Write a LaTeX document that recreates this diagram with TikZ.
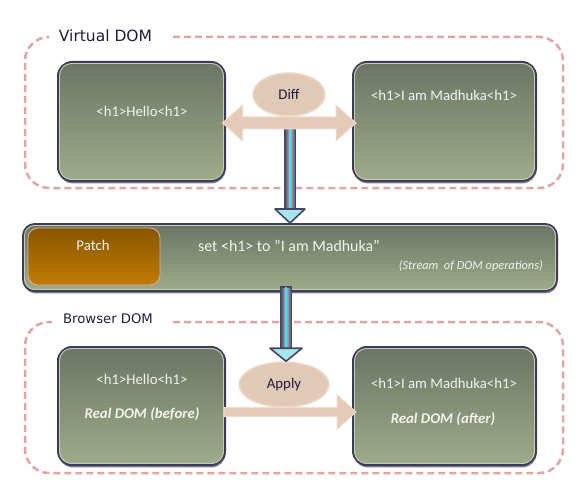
\documentclass[tikz,border=0pt]{standalone}
\usepackage{fontspec}
\setmainfont{Carlito}
\newfontfamily\lblfont{DejaVu Sans}
\usetikzlibrary{calc,shadows,shapes.geometric}
\definecolor{boxtop}{HTML}{6A7563}
\definecolor{boxbot}{HTML}{9EAC8A}
\definecolor{boxedge}{HTML}{3C3C54}
\definecolor{shadowc}{HTML}{6E6E86}
\definecolor{hlc}{HTML}{C4CCB8}
\definecolor{framec}{HTML}{DFA6A3}
\definecolor{arrowfill}{HTML}{E5CBB7}
\definecolor{arrowedge}{HTML}{EEDDD0}
\definecolor{ellfill}{HTML}{E2C9B5}
\definecolor{elledge}{HTML}{EBD9CC}
\definecolor{patchtop}{HTML}{875600}
\definecolor{patchbot}{HTML}{C27B00}
\definecolor{patchedge}{HTML}{D6B4A4}
\definecolor{shaftdark}{HTML}{464660}
\definecolor{shaftlight}{HTML}{B8B8CC}
\definecolor{cyanc}{HTML}{3FE3F0}
\definecolor{headfill}{HTML}{A6E6EE}
\definecolor{darktext}{HTML}{1E1E3C}
\definecolor{boxtext}{HTML}{F2F2EE}
\begin{document}
\begin{tikzpicture}[x=1pt,y=-1pt,
  dombox/.style={rectangle, rounded corners=14pt, draw=boxedge, line width=2pt,
    top color=boxtop, bottom color=boxbot, inner sep=0pt,
    drop shadow={shadow xshift=0.6pt, shadow yshift=-2.4pt, fill=shadowc, opacity=0.9}},
  boxhl/.style={draw=hlc, line width=0.9pt, rounded corners=12pt},
  framepath/.style={draw=framec, line width=2.5pt, dash pattern=on 7pt off 4pt, rounded corners=24pt},
  grplabel/.style={text=darktext, inner sep=0pt},
  btext/.style={text=boxtext, inner sep=0pt, font=\fontsize{14.8}{17}\selectfont},
  bitext/.style={text=boxtext, inner sep=0pt, font=\fontsize{14.8}{17}\selectfont\bfseries\itshape},
  ell/.style={ellipse, fill=ellfill, draw=elledge, line width=1.5pt, inner sep=0pt,
    text=darktext, font=\fontsize{14.8}{17}\selectfont},
  blockarrow/.style={fill=arrowfill, draw=arrowedge, line width=1pt, line join=miter},
  shaft/.style={draw=shaftdark, line width=1.3pt, left color=shaftdark, right color=shaftdark, middle color=shaftlight},
  dhead/.style={draw=shaftdark, line width=1.6pt, fill=headfill, line join=round},
  cyanln/.style={draw=cyanc, line width=1.2pt},
  patchbox/.style={rectangle, rounded corners=10pt, draw=patchedge, line width=0.8pt,
    top color=patchtop, bottom color=patchbot, inner sep=0pt}
]
\useasboundingbox (0,0) rectangle (588,489);

% group frames
\draw[framepath] (173,37) -- (563,37) -- (563,188) -- (25,188) -- (25,37) -- (47,37);
\node[grplabel, font=\lblfont\fontsize{15.5}{18}\selectfont] (vlabel) at (105.5,36) {Virtual DOM};
\draw[framepath] (173,322) -- (563,322) -- (563,473) -- (25,473) -- (25,322) -- (52,322);
\node[grplabel, font=\lblfont\fontsize{13.2}{16}\selectfont] (blabel) at (108,319) {Browser DOM};

% top boxes
\node[dombox, minimum width=167pt, minimum height=119pt] (tl) at (141.5,121.5) {};
\draw[boxhl] ([shift={(2.5pt,-2.5pt)}]tl.north west) rectangle ([shift={(-2.5pt,2.5pt)}]tl.south east);
\node[dombox, minimum width=183pt, minimum height=119pt] (tr) at (444.5,121.5) {};
\draw[boxhl] ([shift={(2.5pt,-2.5pt)}]tr.north west) rectangle ([shift={(-2.5pt,2.5pt)}]tr.south east);
\node[btext] (tltext) at (142,111) {<h1>Hello<h1>};
\node[btext] (trtext) at (444,95) {<h1>I am Madhuka<h1>};

% patch bar and down arrow 1
\node[dombox, minimum width=534pt, minimum height=67pt, rounded corners=12pt] (patch) at (290,257.5) {};
\coordinate (a1s) at (290,128);
\coordinate (a1t) at (a1s |- patch.north);
\draw[shaft] ($(a1s)+(-5.5,0)$) rectangle ($(a1t)+(5.5,-13)$);
\draw[cyanln] (a1s) -- ($(a1t)+(0,-12)$);
\draw[dhead] ($(a1t)+(-15,-14)$) -- (a1t) -- ($(a1t)+(15,-14)$) -- cycle;

% diff double arrow
\coordinate (dL) at ([xshift=-3.5pt]tl.east |- 0,123);
\coordinate (dR) at ([xshift=4pt]tr.west |- 0,123);
\filldraw[blockarrow] (dL) -- ($(dL)+(20,-18)$) -- ($(dL)+(20,-6)$) -- ($(dR)+(-20,-6)$)
  -- ($(dR)+(-20,-18)$) -- (dR) -- ($(dR)+(-20,18)$) -- ($(dR)+(-20,6)$)
  -- ($(dL)+(20,6)$) -- ($(dL)+(20,18)$) -- cycle;
\node[ell, minimum width=72pt, minimum height=43pt] (diff) at (289,94.5) {Diff};

% patch bar contents
\draw[boxhl, rounded corners=10pt] ([shift={(2.5pt,-2.5pt)}]patch.north west) rectangle ([shift={(-2.5pt,2.5pt)}]patch.south east);
\node[patchbox, minimum width=132pt, minimum height=57pt] (pbox) at (94,256.5) {};
\node[btext] (ptext) at (93,245) {Patch};
\node[btext, font=\fontsize{15.9}{18}\selectfont] (settext) at (289,246) {set <h1> to \symbol{34}I am Madhuka\symbol{34}};
\node[btext, anchor=east, font=\fontsize{12.3}{14}\selectfont\itshape] (stream) at (543,266) {(Stream~ of DOM operations)};

% bottom boxes
\node[dombox, minimum width=167pt, minimum height=118pt] (bl) at (141.5,406) {};
\draw[boxhl] ([shift={(2.5pt,-2.5pt)}]bl.north west) rectangle ([shift={(-2.5pt,2.5pt)}]bl.south east);
\node[dombox, minimum width=183pt, minimum height=118pt] (br) at (444.5,406) {};
\draw[boxhl] ([shift={(2.5pt,-2.5pt)}]br.north west) rectangle ([shift={(-2.5pt,2.5pt)}]br.south east);
\node[btext] (bltext) at (142,379) {<h1>Hello<h1>};
\node[bitext] (blsub) at (142,414) {Real DOM (before)};
\node[btext] (brtext) at (444,383) {<h1>I am Madhuka<h1>};
\node[bitext] (brsub) at (443,419) {Real DOM (after)};

% apply ellipse + down arrow 2
\node[ell, minimum width=90pt, minimum height=45pt] (apply) at (284,384.5) {Apply};
\coordinate (a2s) at (286,287);
\coordinate (a2t) at (a2s |- apply.north);
\draw[shaft] ($(a2s)+(-5.5,0)$) rectangle ($(a2t)+(5.5,-12)$);
\draw[cyanln] (a2s) -- ($(a2t)+(0,-11)$);
\draw[dhead] ($(a2t)+(-16,-13)$) -- (a2t) -- ($(a2t)+(16,-13)$) -- cycle;

% apply arrow
\coordinate (aT) at ([xshift=-2pt]bl.east |- 0,412);
\coordinate (aH) at ([xshift=4pt]br.west |- 0,412);
\filldraw[blockarrow] ($(aT)+(0,-4.5)$) -- ($(aH)+(-19,-4.5)$) -- ($(aH)+(-19,-17.5)$)
  -- (aH) -- ($(aH)+(-19,17.5)$) -- ($(aH)+(-19,4.5)$) -- ($(aT)+(0,4.5)$) -- cycle;
\end{tikzpicture}
\end{document}
